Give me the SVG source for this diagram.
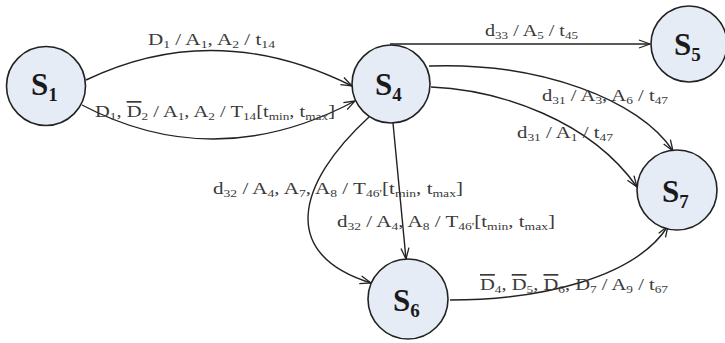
<svg xmlns="http://www.w3.org/2000/svg" width="725" height="343" viewBox="0 0 725 343">
<style>
.bg{fill:#ffffff}
.edge{fill:none;stroke:#222;stroke-width:1.4}
.node{fill:#e6ecf6;stroke:#222;stroke-width:1.6}
.nl{font-family:"Liberation Serif","Times New Roman",serif;font-weight:bold;font-size:31px;fill:#1a1a1a}
.nl .s{font-size:19px}
.lbl{font-family:"Liberation Serif","Times New Roman",serif;font-size:17px;fill:#3a3a3a}
.lbl .s{font-size:11px}
.ov{text-decoration:overline}
</style>
<defs>
<marker id="ah" markerWidth="13" markerHeight="10" refX="12" refY="5" orient="auto" markerUnits="userSpaceOnUse">
<path d="M1,1 L12,5 L1,9" fill="none" stroke="#222" stroke-width="1.3"/>
</marker>
</defs>
<rect class="bg" x="0" y="0" width="725" height="343"/>
<g id="connectors">
<path class="edge" d="M86,80 Q215,18 352,86" marker-end="url(#ah)"/>
<path class="edge" d="M82,105 Q215,175 355,101" marker-end="url(#ah)"/>
<path class="edge" d="M390,44 L650,44" marker-end="url(#ah)"/>
<path class="edge" d="M429,66 C540,62 640,100 673,151" marker-end="url(#ah)"/>
<path class="edge" d="M431,87 C500,90 590,120 637,187" marker-end="url(#ah)"/>
<path class="edge" d="M369,117 C295,185 280,255 371,283" marker-end="url(#ah)"/>
<path class="edge" d="M393,123 L406,259" marker-end="url(#ah)"/>
<path class="edge" d="M450,300 C540,300 635,278 668,226" marker-end="url(#ah)"/>
</g>
<g id="labels">
<text class="lbl" x="148" y="45" textLength="127" lengthAdjust="spacingAndGlyphs">D<tspan class="s" dy="3">1</tspan><tspan dy="-3"> / A</tspan><tspan class="s" dy="3">1</tspan><tspan dy="-3">, A</tspan><tspan class="s" dy="3">2</tspan><tspan dy="-3"> / t</tspan><tspan class="s" dy="3">14</tspan></text>
<text class="lbl" x="95" y="117" textLength="240" lengthAdjust="spacingAndGlyphs">D<tspan class="s" dy="3">1</tspan><tspan dy="-3">, </tspan><tspan class="ov">D</tspan><tspan class="s" dy="3">2</tspan><tspan dy="-3"> / A</tspan><tspan class="s" dy="3">1</tspan><tspan dy="-3">, A</tspan><tspan class="s" dy="3">2</tspan><tspan dy="-3"> / T</tspan><tspan class="s" dy="3">14</tspan><tspan dy="-3">[t</tspan><tspan class="s" dy="3">min</tspan><tspan dy="-3">, t</tspan><tspan class="s" dy="3">max</tspan><tspan dy="-3">]</tspan></text>
<text class="lbl" x="485" y="36" textLength="93" lengthAdjust="spacingAndGlyphs">d<tspan class="s" dy="3">33</tspan><tspan dy="-3"> / A</tspan><tspan class="s" dy="3">5</tspan><tspan dy="-3"> / t</tspan><tspan class="s" dy="3">45</tspan></text>
<text class="lbl" x="542" y="101" textLength="126" lengthAdjust="spacingAndGlyphs">d<tspan class="s" dy="3">31</tspan><tspan dy="-3"> / A</tspan><tspan class="s" dy="3">3</tspan><tspan dy="-3">, A</tspan><tspan class="s" dy="3">6</tspan><tspan dy="-3"> / t</tspan><tspan class="s" dy="3">47</tspan></text>
<text class="lbl" x="517" y="138" textLength="96" lengthAdjust="spacingAndGlyphs">d<tspan class="s" dy="3">31</tspan><tspan dy="-3"> / A</tspan><tspan class="s" dy="3">1</tspan><tspan dy="-3"> / t</tspan><tspan class="s" dy="3">47</tspan></text>
<text class="lbl" x="213" y="194" textLength="250" lengthAdjust="spacingAndGlyphs">d<tspan class="s" dy="3">32</tspan><tspan dy="-3"> / A</tspan><tspan class="s" dy="3">4</tspan><tspan dy="-3">, A</tspan><tspan class="s" dy="3">7</tspan><tspan dy="-3">, A</tspan><tspan class="s" dy="3">8</tspan><tspan dy="-3"> / T</tspan><tspan class="s" dy="3">46'</tspan><tspan dy="-3">[t</tspan><tspan class="s" dy="3">min</tspan><tspan dy="-3">, t</tspan><tspan class="s" dy="3">max</tspan><tspan dy="-3">]</tspan></text>
<text class="lbl" x="337" y="227" textLength="218" lengthAdjust="spacingAndGlyphs">d<tspan class="s" dy="3">32</tspan><tspan dy="-3"> / A</tspan><tspan class="s" dy="3">4</tspan><tspan dy="-3">, A</tspan><tspan class="s" dy="3">8</tspan><tspan dy="-3"> / T</tspan><tspan class="s" dy="3">46'</tspan><tspan dy="-3">[t</tspan><tspan class="s" dy="3">min</tspan><tspan dy="-3">, t</tspan><tspan class="s" dy="3">max</tspan><tspan dy="-3">]</tspan></text>
<text class="lbl" x="480" y="290" textLength="188" lengthAdjust="spacingAndGlyphs"><tspan class="ov">D</tspan><tspan class="s" dy="3">4</tspan><tspan dy="-3">, </tspan><tspan class="ov">D</tspan><tspan class="s" dy="3">5</tspan><tspan dy="-3">, </tspan><tspan class="ov">D</tspan><tspan class="s" dy="3">6</tspan><tspan dy="-3">, D</tspan><tspan class="s" dy="3">7</tspan><tspan dy="-3"> / A</tspan><tspan class="s" dy="3">9</tspan><tspan dy="-3"> / t</tspan><tspan class="s" dy="3">67</tspan></text>
</g>
<g id="S1"><circle class="node" cx="46" cy="86" r="39.5"/><text class="nl" x="31" y="95">S<tspan class="s" dy="6">1</tspan></text></g>
<g id="S4"><circle class="node" cx="391" cy="84" r="39"/><text class="nl" x="375" y="95">S<tspan class="s" dy="6">4</tspan></text></g>
<g id="S5"><circle class="node" cx="689" cy="44" r="38"/><text class="nl" x="674" y="55">S<tspan class="s" dy="6">5</tspan></text></g>
<g id="S6"><circle class="node" cx="408" cy="299" r="40"/><text class="nl" x="393" y="311">S<tspan class="s" dy="6">6</tspan></text></g>
<g id="S7"><circle class="node" cx="677" cy="190" r="40"/><text class="nl" x="662" y="202">S<tspan class="s" dy="6">7</tspan></text></g>
</svg>
